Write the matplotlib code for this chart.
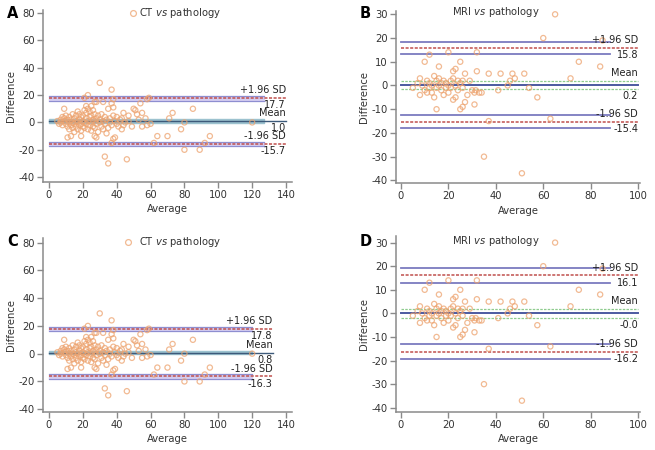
import matplotlib.pyplot as plt

plt.rcParams['font.family'] = 'DejaVu Sans'
plt.rcParams['mathtext.fontset'] = 'dejavusans'
plt.rcParams['axes.unicode_minus'] = False

# CT vs pathology points (average, difference)
ct_avg = [30, 37, 23, 21, 38, 58, 59, 54, 37, 38, 35, 50, 51, 73, 85, 71, 52, 55, 44, 47,
          9, 22, 25, 27, 32, 28, 80, 78, 120, 95, 92, 89, 80, 70, 64, 62, 46, 35, 33, 37,
          38, 39, 34, 27, 28, 11, 13, 19, 58, 55, 49, 43, 41, 44, 40, 47, 53, 57, 60,
          5, 6, 7, 7, 8, 8, 9, 9, 10, 10, 11, 11, 12, 12, 12, 13, 13, 14, 14, 14,
          15, 15, 15, 16, 16, 16, 17, 17, 17, 18, 18, 18, 19, 19, 19, 20, 20, 20, 21, 21,
          21, 22, 22, 22, 23, 23, 23, 24, 24, 24, 25, 25, 25, 26, 26, 26, 27, 27, 27, 28,
          28, 29, 29, 30, 30, 31, 31, 32, 32, 33, 33, 34, 35, 36, 36, 37, 38, 39, 40, 42,
          43, 45]
ct_diff = [29, 24, 20, 18, 17, 17, 18, 14, 14, 11, 10, 10, 9, 7, 10, 3, 6, 7, 7, 5,
           10, 12, 12, 15, 15, 15, 0, -5, 0, -10, -15, -20, -20, -10, -10, -15, -27, -30, -25, -15,
           -12, -11, -8, -10, -11, -11, -10, -10, -2, -3, -3, -5, -3, -2, -1, 1, 2, 3, -1,
           1, -1, 2, 0, 4, -2, 1, 3, -1, 5, 2, -3, 0, 4, -5, 2, -2, 6, 0, -4,
           3, -1, -7, 1, 5, -3, 8, 0, -5, 2, -2, 6, 4, -1, -6, 1, -3, 5, 9, 0,
           -4, 3, -1, 7, 1, -5, 10, 4, -2, 8, 0, -6, 5, 2, -3, 9, 1, 6, -4, -1,
           3, 5, -7, 0, 2, -3, 6, 1, -5, 4, -1, 2, -4, 3, 0, -2, 5, 1, 4, 2,
           3, 0]

# MRI vs pathology points
mri_avg = [65, 60, 85, 12, 20, 32, 10, 16, 25, 23, 22, 27, 32, 37, 42, 47, 52, 75, 84, 71.5,
           48, 46, 45, 54, 57.5, 63, 37, 35, 51, 41, 31, 31.5, 31, 33, 27, 26, 25, 15, 8, 5,
           7, 8, 9, 10, 11, 11, 12, 12, 13, 13, 14, 14, 15, 15, 16, 16, 17, 17, 18, 18,
           19, 19, 20, 20, 21, 21, 22, 22, 23, 23, 24, 24, 25, 26, 26, 28, 29, 30, 34]
mri_diff = [30, 20, 19, 13, 14, 14, 10, 8, 10, 7, 6, 5, 6, 5, 5, 5, 5, 10, 8, 3,
            3, 2, 0, -1, -5, -14, -15, -30, -37, -2, -8, -2, -3, -3, -7, -9, -10, -10, -4, -1,
            1, 3, 0, -2, 2, -3, -1, 1, -3, 0, 4, -5, 2, -1, 3, 0, 1, -2, -4, 2,
            -1, 1, 0, -3, 2, -1, -6, 3, -5, 0, 2, -2, 1, 2, -1, -4, 2, -2, -3]

# limits of agreement per panel
ct_stats = {'A': (17.7, 1.0, -15.7), 'C': (17.8, 0.8, -16.3)}
mri_stats = {'B': (15.8, 0.2, -15.4), 'D': (16.1, -0.0, -16.2)}
mri_ci = {'B': [(18.4, 13.1), (1.9, -1.5), (-12.6, -17.8)],
          'D': [(19.2, 13.0), (1.8, -1.8), (-13.1, -19.2)]}

W, H = 655, 450
fig = plt.figure(figsize=(W / 100, H / 100), dpi=100)


def add_ax(l, r, t, b):
    return fig.add_axes([l / W, 1 - b / H, (r - l) / W, (b - t) / H])


def style(ax, xlim, ylim, xticks, yticks):
    ax.set_xlim(*xlim)
    ax.set_ylim(*ylim)
    ax.set_xticks(xticks)
    ax.set_yticks(yticks)
    for s in ['top', 'right']:
        ax.spines[s].set_visible(False)
    for s in ['left', 'bottom']:
        ax.spines[s].set_color('#8a8a8a')
        ax.spines[s].set_linewidth(1.1)
    ax.tick_params(direction='out', length=4, width=1, color='#8a8a8a',
                   labelsize=7.2, labelcolor='#333333', pad=2)
    ax.set_xlabel('Average', fontsize=7.2, color='#333333', labelpad=3)
    ax.set_ylabel('Difference', fontsize=7.2, color='#333333', labelpad=2)


def label(ax, x, y, txt, above):
    ax.annotate(txt, xy=(x, y), xytext=(0, 2.0 if above else -1.6),
                textcoords='offset points', ha='right',
                va='bottom' if above else 'top', fontsize=7, color='#222222')


pts = dict(s=14, facecolors='none', edgecolors='#eda36f', linewidths=0.9, alpha=0.75, zorder=3)

# CT panels
for key, rect, ylim, band_end, line_end in [('A', (43, 292, 10, 182), (-43.6, 82.3), 127, 140),
                                            ('C', (43, 292, 238, 412), (-42, 83.3), 120, 132)]:
    ax = add_ax(*rect)
    style(ax, (-3.5, 143.5), ylim, range(0, 141, 20), range(-40, 81, 20))
    up, mean, lo = ct_stats[key]
    for v in (up, lo):
        ax.fill_between([0, band_end], v - 1.7, v + 1.7, color='#d3ccf0', zorder=1)
        ax.plot([0, band_end], [v - 1.7, v - 1.7], color='#8e8ed0', lw=0.8, zorder=1)
        ax.plot([0, band_end], [v + 1.7, v + 1.7], color='#8e8ed0', lw=0.8, zorder=1)
        ax.plot([0, line_end], [v, v], color='#c0504d', lw=1.1, ls=(0, (2, 1)), zorder=2)
    ax.fill_between([0, band_end], mean - 1.3, mean + 1.3, color='#9cc2cf', zorder=1)
    ax.plot([0, line_end], [mean, mean], color='#3d5a7a', lw=1.0, zorder=2)
    ax.scatter(ct_avg, ct_diff, **pts)
    label(ax, line_end, up, '+1.96 SD', True)
    label(ax, line_end, up, f'{up:.1f}', False)
    label(ax, line_end, mean, 'Mean', True)
    label(ax, line_end, mean, f'{mean:.1f}', False)
    label(ax, line_end, lo, '-1.96 SD', True)
    label(ax, line_end, lo, f'{lo:.1f}', False)

# MRI panels
for key, rect, ylim in [('B', (396, 640, 11, 183), (-41.1, 31.4)),
                        ('D', (396, 640, 236, 412), (-41.8, 32.8))]:
    ax = add_ax(*rect)
    style(ax, (-2.1, 100.8), ylim, range(0, 101, 20), range(-40, 31, 10))
    up, mean, lo = mri_stats[key]
    (u1, u2), (m1, m2), (l1, l2) = mri_ci[key]
    for a, b in [(u1, u2), (l1, l2)]:
        ax.plot([0, 88], [a, a], color='#7b7bbf', lw=1.3, zorder=1)
        ax.plot([0, 88], [b, b], color='#7b7bbf', lw=1.3, zorder=1)
    for v in (up, lo):
        ax.plot([0, 100], [v, v], color='#c0504d', lw=1.1, ls=(0, (2, 1)), zorder=2)
    for v in (m1, m2):
        ax.plot([0, 100], [v, v], color='#8fcc8f', lw=0.9, ls=(0, (2, 1)), zorder=1)
    ax.plot([0, 100], [mean, mean], color='#4c5aa0', lw=1.4, zorder=2)
    ax.scatter(mri_avg, mri_diff, **pts)
    label(ax, 100, up, '+1.96 SD', True)
    label(ax, 100, up, f'{up:.1f}', False)
    label(ax, 100, m1, 'Mean', True)
    label(ax, 100, m2, f'{mean:.1f}', False)
    label(ax, 100, lo, '-1.96 SD', True)
    label(ax, 100, lo, f'{lo:.1f}', False)

# titles and panel letters
for x, y in [(133, 12.5), (128, 242)]:
    fig.add_artist(plt.Line2D([x / W], [1 - y / H], marker='o', ms=4.2, mfc='none',
                              mec='#eda36f', mew=0.9, alpha=0.75, transform=fig.transFigure))
for x, y, t in [(139, 12.5, r'CT $\mathit{vs}$ pathology'), (139, 242, r'CT $\mathit{vs}$ pathology'),
                (452, 12, r'MRI $\mathit{vs}$ pathology'), (452, 241, r'MRI $\mathit{vs}$ pathology')]:
    fig.text(x / W, 1 - y / H, t, ha='left', va='center', fontsize=7.2, color='#333333')
for x, y, t in [(7, 13, 'A'), (360, 13, 'B'), (7, 242, 'C'), (360, 241, 'D')]:
    fig.text(x / W, 1 - y / H, t, ha='left', va='center', fontsize=10.5, fontweight='bold')

fig.savefig('out.png', dpi=100)
